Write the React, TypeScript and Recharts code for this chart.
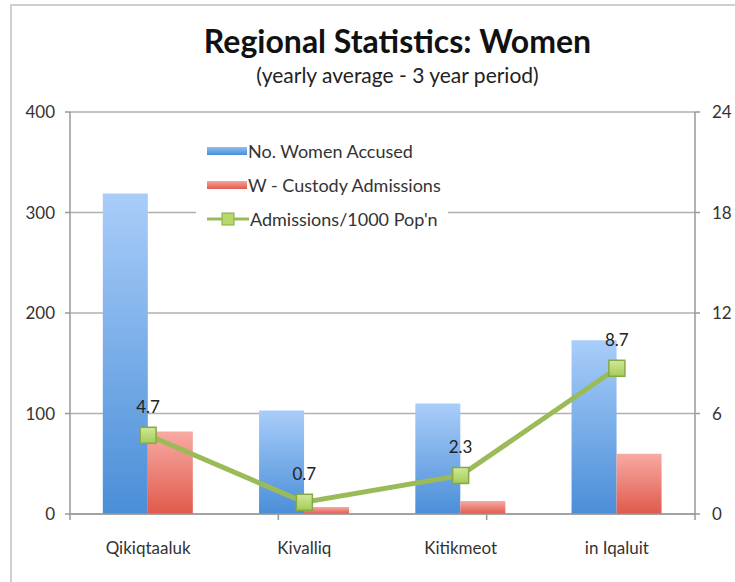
import { ComposedChart, Bar, Line, XAxis, YAxis, CartesianGrid, Legend } from 'recharts'

const regions = ['Qikiqtaaluk', 'Kivalliq', 'Kitikmeot', 'in Iqaluit']
const womenAccused = [319, 103, 110, 173]
const custodyAdmissions = [82, 7, 13, 60]
const admissionsPer1000 = [4.7, 0.7, 2.3, 8.7]
const leftTicks = [0, 100, 200, 300, 400]
const rightTicks = [0, 6, 12, 18, 24]
const boundaryTicks = [0, 1, 2, 3, 4]

const SERIES = [
  { key: 'accused', name: 'No. Women Accused', kind: 'bar', color: 'url(#blueGrad)' },
  { key: 'custody', name: 'W - Custody Admissions', kind: 'bar', color: 'url(#redGrad)' },
  { key: 'rate', name: "Admissions/1000 Pop'n", kind: 'line', color: '#9bbb59' },
]

const data = regions.map((name, i) => ({
  name,
  accused: womenAccused[i],
  custody: custodyAdmissions[i],
  rate: admissionsPer1000[i],
}))

const FONT = 'Lato, "Open Sans", sans-serif'

function SquareDot(props: any) {
  const { cx, cy } = props
  if (cx == null || cy == null) return null
  return <rect x={cx - 8} y={cy - 8} width={16} height={16} fill="url(#greenGrad)" stroke="#86a845" strokeWidth={1.5} />
}

function RateLabel(props: any) {
  const { x, y, value } = props
  return (
    <text x={x} y={y - 22} textAnchor="middle" fontSize={17} fill="#222" fontFamily={FONT}>
      {value}
    </text>
  )
}

function LegendBox() {
  return (
    <div style={{ background: '#fff', width: 252, height: 100, position: 'relative', fontFamily: FONT }}>
      {SERIES.map((s, i) => (
        <div key={s.key} style={{ position: 'absolute', left: 0, top: 6 + i * 34, height: 24, display: 'flex', alignItems: 'center' }}>
          {s.kind === 'bar' ? (
            <span style={{ display: 'inline-block', width: 40, height: 8, marginLeft: 11, background: i === 0 ? 'linear-gradient(#8fbdf2,#4a8fd8)' : 'linear-gradient(#f6a39c,#e05a4c)' }} />
          ) : (
            <svg width={42} height={16} style={{ marginLeft: 11 }}>
              <line x1={0} y1={8} x2={42} y2={8} stroke={s.color} strokeWidth={3} />
              <rect x={15} y={2} width={12} height={12} fill="#b5d96a" stroke="#86a845" />
            </svg>
          )}
          <span style={{ fontSize: 18, color: '#333', marginLeft: 1, whiteSpace: 'nowrap' }}>{s.name}</span>
        </div>
      ))}
    </div>
  )
}

export default function App() {
  return (
    <div style={{ position: 'absolute', left: 0, top: 0, width: 735, height: 582, background: '#fff', overflow: 'hidden', fontFamily: FONT }}>
      <div style={{ position: 'absolute', left: 10, top: 4, width: 725, height: 578, borderLeft: '2px solid #cfcfcf', borderTop: '2px solid #cfcfcf' }} />
      <div style={{ position: 'absolute', left: 0, width: 795, top: 21, textAlign: 'center', fontSize: 32, fontWeight: 700, color: '#111', lineHeight: '40px' }}>
        Regional Statistics: Women
      </div>
      <div style={{ position: 'absolute', left: 0, width: 795, top: 61, textAlign: 'center', fontSize: 21, color: '#222', lineHeight: '28px' }}>
        (yearly average - 3 year period)
      </div>
      <div style={{ position: 'absolute', left: 0, top: 0 }}>
        <ComposedChart
          width={735}
          height={582}
          data={data}
          margin={{ top: 112, right: 0, bottom: 26, left: 10 }}
          barCategoryGap="21%"
          barGap={0}
        >
          <defs>
            <linearGradient id="blueGrad" x1="0" y1="0" x2="0" y2="1">
              <stop offset="0%" stopColor="#a9cdf9" />
              <stop offset="100%" stopColor="#4a8ed8" />
            </linearGradient>
            <linearGradient id="redGrad" x1="0" y1="0" x2="0" y2="1">
              <stop offset="0%" stopColor="#f8aaa3" />
              <stop offset="100%" stopColor="#df5a4b" />
            </linearGradient>
            <linearGradient id="greenGrad" x1="0" y1="0" x2="0" y2="1">
              <stop offset="0%" stopColor="#cfe99a" />
              <stop offset="100%" stopColor="#a4cc55" />
            </linearGradient>
          </defs>
          <CartesianGrid yAxisId="left" xAxisId="cat" vertical={false} stroke="#b0b0b0" strokeWidth={1.5} />
          <XAxis
            xAxisId="b"
            type="number"
            domain={[0, 4]}
            ticks={boundaryTicks}
            tick={() => <g />}
            tickSize={6}
            height={6}
            stroke="#999"
            strokeWidth={1.5}
          />
          <XAxis
            xAxisId="cat"
            dataKey="name"
            axisLine={false}
            tickLine={false}
            height={36}
            tickMargin={16}
            tick={{ fontSize: 17, fill: '#333', fontFamily: FONT }}
          />
          <YAxis
            yAxisId="left"
            domain={[0, 400]}
            ticks={leftTicks}
            width={60}
            tickSize={5}
            tickMargin={10}
            stroke="#999"
            strokeWidth={1.5}
            tick={{ fontSize: 17, fill: '#333', fontFamily: FONT }}
          />
          <YAxis
            yAxisId="right"
            orientation="right"
            domain={[0, 24]}
            ticks={rightTicks}
            width={40}
            tickSize={5}
            tickMargin={12}
            stroke="#999"
            strokeWidth={1.5}
            tick={{ fontSize: 17, fill: '#333', fontFamily: FONT, textAnchor: 'start' }}
          />
          <Bar xAxisId="cat" yAxisId="left" dataKey="accused" name={SERIES[0].name} fill="url(#blueGrad)" isAnimationActive={false} />
          <Bar xAxisId="cat" yAxisId="left" dataKey="custody" name={SERIES[1].name} fill="url(#redGrad)" isAnimationActive={false} />
          <Line
            xAxisId="cat"
            yAxisId="right"
            dataKey="rate"
            name={SERIES[2].name}
            stroke="#9bbb59"
            strokeWidth={5}
            dot={<SquareDot />}
            activeDot={false}
            label={<RateLabel />}
            isAnimationActive={false}
          />
          <Legend
            layout="vertical"
            align="center"
            verticalAlign="middle"
            wrapperStyle={{ left: 196, top: 133, width: 252 }}
            content={() => <LegendBox />}
          />
        </ComposedChart>
      </div>
    </div>
  )
}
